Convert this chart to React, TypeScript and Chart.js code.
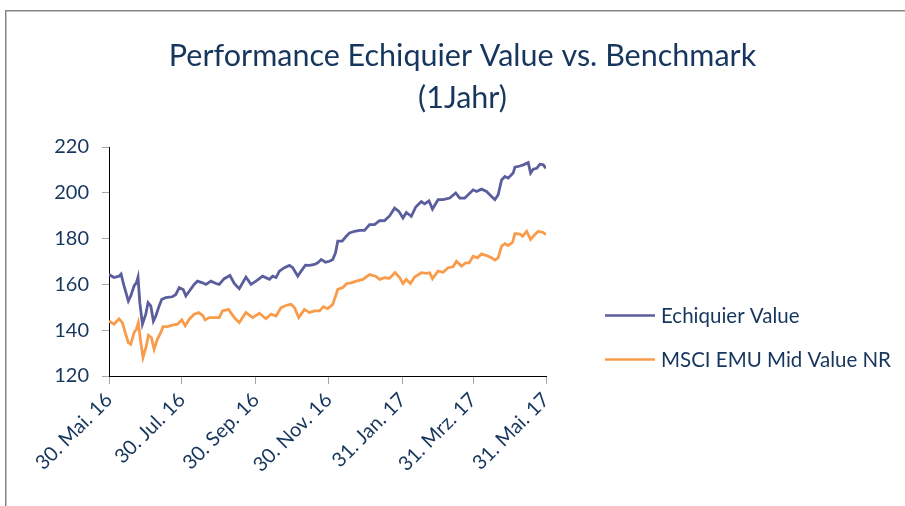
import React, { useEffect, useRef } from "react";
import { Chart, registerables } from "chart.js";

Chart.register(...registerables);

const titleLines = ["Performance Echiquier Value vs. Benchmark", "(1Jahr)"];
const seriesNames = ["Echiquier Value", "MSCI EMU Mid Value NR"];
const seriesColors = ["#5B5E9C", "#F89C4C"];

// x axis: days since 30 May 2016
const tickDays = [0, 61, 123, 184, 246, 305, 366];
const tickLabels = ["30. Mai. 16", "30. Jul. 16", "30. Sep. 16", "30. Nov. 16", "31. Jan. 17", "31. Mrz. 17", "31. Mai. 17"];
const yMin = 120;
const yMax = 220;
const yStep = 20;

const echiquierDays = [
  0, 4.2, 8.4, 10.1, 12.6, 16.2, 18.2, 21, 22.9, 24.3, 25.8, 28, 30.8, 32.7, 35, 37.2, 39.2, 42, 44.2, 47.6,
  53.1, 56, 58.8, 62.1, 64.4, 67.2, 71.3, 74.1, 78.3, 81.2, 85.4, 89.6, 92.3, 96.5, 101.3, 104.9, 109.1, 114.7,
  118.9, 123.1, 128.7, 134.3, 137.1, 139.9, 142.7, 146.9, 151.1, 153.9, 158.1, 160.9, 164.5, 167.9, 172.1,
  174.8, 177.7, 181.3, 184.7, 187.4, 189.7, 191.6, 195.3, 198.7, 201.5, 205.7, 209.9, 214, 218.2, 222.4,
  226.6, 230.8, 235, 239.2, 242.8, 246.2, 249, 253.2, 256.9, 261.6, 264.4, 268, 270.9, 275.6, 279.8, 285.4,
  290.4, 293.8, 298, 300.8, 305, 307.8, 312, 316.2, 320.4, 323.2, 325.9, 328.8, 331.6, 334.3, 338.5, 340,
  344.2, 347.5, 351.1, 353.1, 355.3, 358.2, 360.9, 363.7, 366,
];
const echiquierValues = [
  164.3, 163, 163.6, 164.5, 159.3, 152.7, 154.9, 159.3, 160.7, 163.2, 152, 142.6, 147, 152, 150.6, 144, 146.2, 150.6, 153.5, 154.2,
  154.6, 155.6, 158.6, 157.8, 155, 157, 160, 161.4, 160.7, 160, 161.4, 160.4, 160, 162.5, 163.9, 160.4, 158.1, 163.2,
  160, 161.4, 163.6, 162.2, 163.6, 163, 165.8, 167.3, 168.3, 167.3, 163.6, 165.8, 168.4, 168.3, 168.7,
  169.4, 170.9, 169.7, 170.1, 170.9, 173.8, 178.9, 178.9, 181, 182.5, 183.2, 183.6, 183.6, 186.1, 186.1,
  187.8, 187.9, 189.9, 193.3, 191.9, 189, 191.4, 189.7, 193.8, 196.2, 195.2, 196.5, 192.9, 197, 197, 197.7,
  199.9, 197.7, 197.7, 199.1, 201.3, 200.6, 201.6, 200.6, 198.4, 197, 199.1, 205.6, 207.1, 206.4, 208.6, 211.2,
  211.7, 212.3, 213.2, 208.6, 210.3, 210.7, 212.5, 212.2, 210.7,
];

const msciDays = [
  0, 4.2, 8.4, 11.2, 14, 16.2, 18.2, 21, 22.9, 24.6, 26.6, 28.5, 31.3, 33, 35.5, 37.8, 40.5, 43.4, 45.3, 48.9,
  53.1, 57.3, 61, 63.8, 67.2, 71.3, 75, 78.3, 80.6, 83.9, 88.1, 92.3, 95.1, 100.1, 104.9, 109.1, 114.7, 120.3,
  125.9, 131.5, 135.7, 139.9, 144.1, 148.8, 152.5, 155.3, 158.9, 163.7, 167.9, 172.1, 176.3, 179.6, 183.2,
  187.4, 191.6, 195.8, 199.2, 202.9, 207.1, 212.6, 218.2, 223.3, 226.6, 230.8, 235, 239.6, 243.4, 246.2, 249,
  252.4, 256, 261.6, 265.8, 268.6, 270.9, 275.6, 279.8, 284, 288.2, 291, 295.2, 298.8, 301.6, 305, 308.6, 312,
  316.2, 320.4, 323.2, 325.9, 328.8, 331.6, 334.3, 338, 340, 344.2, 346.4, 349.8, 353.1, 355.3, 359.5, 363.7, 366,
];
const msciValues = [
  144, 142.6, 145, 143.3, 138.3, 134.6, 133.9, 139, 140.4, 143.3, 134.6, 128.1, 133.2, 137.8, 136.8, 131.7, 136, 139, 141.6, 141.6,
  142.2, 142.6, 144.5, 141.9, 144.8, 147, 147.7, 146.5, 144.5, 145.5, 145.5, 145.5, 148.4, 149.1, 145.5, 143.3, 147.7, 145.5,
  147.4, 145, 147, 146.2, 149.9, 150.9, 151.3, 149.9, 145.5, 149.1, 147.7, 148.4, 148.4, 150.3, 149.4,
  151.3, 157.8, 158.6, 160.4, 160.7, 161.4, 162.2, 164.3, 163.6, 162.2, 162.9, 162.7, 165.2, 163, 160.4, 162.2,
  160.4, 163.2, 165.1, 164.8, 165.1, 162.5, 165.8, 165.3, 167.3, 167.7, 170.1, 168, 169.4, 169.4, 172.3, 171.6, 173.3,
  172.6, 171.6, 170.6, 171.6, 176.7, 177.8, 177, 178.4, 182.2, 182, 181, 183.2, 179.6, 181, 183.2, 182.7, 181.7,
];

const textColor = "#17365D";
const fontFamily = "Lato, 'Open Sans', sans-serif";

const decorPlugin = {
  id: "decor",
  beforeDraw(chart: any) {
    const ctx = chart.ctx;
    ctx.save();
    ctx.fillStyle = "#ffffff";
    ctx.fillRect(0, 0, chart.width, chart.height);
    ctx.strokeStyle = "#858585";
    ctx.lineWidth = 1.5;
    ctx.beginPath();
    ctx.moveTo(5.75, chart.height);
    ctx.lineTo(5.75, 10.75);
    ctx.lineTo(chart.width, 10.75);
    ctx.stroke();
    ctx.restore();
  },
  afterDraw(chart: any) {
    const ctx = chart.ctx;
    ctx.save();
    ctx.fillStyle = textColor;
    ctx.textAlign = "center";
    ctx.textBaseline = "middle";
    ctx.font = `30.5px ${fontFamily}`;
    titleLines.forEach((line, i) => {
      ctx.fillText(line, 462.5, 56 + i * 42);
    });
    ctx.textAlign = "left";
    ctx.font = `20.5px ${fontFamily}`;
    chart.data.datasets.forEach((ds: any, i: number) => {
      const y = 315.5 + i * 44;
      ctx.strokeStyle = ds.borderColor;
      ctx.lineWidth = 2.5;
      ctx.beginPath();
      ctx.moveTo(605, y);
      ctx.lineTo(655, y);
      ctx.stroke();
      ctx.fillText(ds.label, 661, y + 1);
    });
    ctx.restore();
  },
};

export default function App() {
  const ref = useRef<HTMLCanvasElement | null>(null);
  useEffect(() => {
    if (!ref.current) return;
    const chart = new Chart(ref.current, {
      type: "line",
      data: {
        datasets: [
          {
            label: seriesNames[0],
            data: echiquierDays.map((d, i) => ({ x: d, y: echiquierValues[i] })),
            borderColor: seriesColors[0],
            backgroundColor: seriesColors[0],
            borderWidth: 2.8,
            pointRadius: 0,
            tension: 0,
          },
          {
            label: seriesNames[1],
            data: msciDays.map((d, i) => ({ x: d, y: msciValues[i] })),
            borderColor: seriesColors[1],
            backgroundColor: seriesColors[1],
            borderWidth: 2.8,
            pointRadius: 0,
            tension: 0,
          },
        ],
      },
      options: {
        animation: false,
        responsive: false,
        events: [],
        layout: { padding: { left: 0, right: 359, top: 147, bottom: 0 } },
        plugins: {
          legend: { display: false },
          title: { display: false },
          tooltip: { enabled: false },
        },
        scales: {
          x: {
            type: "linear",
            min: tickDays[0],
            max: tickDays[tickDays.length - 1],
            afterBuildTicks: (scale: any) => {
              scale.ticks = tickDays.map((v) => ({ value: v }));
            },
            afterFit: (scale: any) => {
              scale.height = 130;
            },
            ticks: {
              autoSkip: false,
              minRotation: 45,
              maxRotation: 45,
              padding: 4,
              color: textColor,
              font: { family: fontFamily, size: 20 },
              callback: (v: any) => {
                const idx = tickDays.indexOf(Number(v));
                return idx >= 0 ? tickLabels[idx] : "";
              },
            },
            grid: { drawOnChartArea: false, drawTicks: true, tickLength: 8, color: "#A6A6A6" },
            border: { display: true, color: "#000000", width: 1 },
          },
          y: {
            type: "linear",
            min: yMin,
            max: yMax,
            afterFit: (scale: any) => {
              scale.width = 109;
            },
            ticks: {
              stepSize: yStep,
              padding: 13,
              color: textColor,
              font: { family: fontFamily, size: 20 },
            },
            grid: { drawOnChartArea: false, drawTicks: true, tickLength: 7, color: "#A6A6A6" },
            border: { display: true, color: "#000000", width: 1 },
          },
        },
      },
      plugins: [decorPlugin],
    } as any);
    return () => chart.destroy();
  }, []);
  return (
    <div style={{ position: "absolute", left: 0, top: 0, width: 905, height: 506, background: "#fff" }}>
      <canvas ref={ref} width={905} height={506} style={{ display: "block" }} />
    </div>
  );
}
